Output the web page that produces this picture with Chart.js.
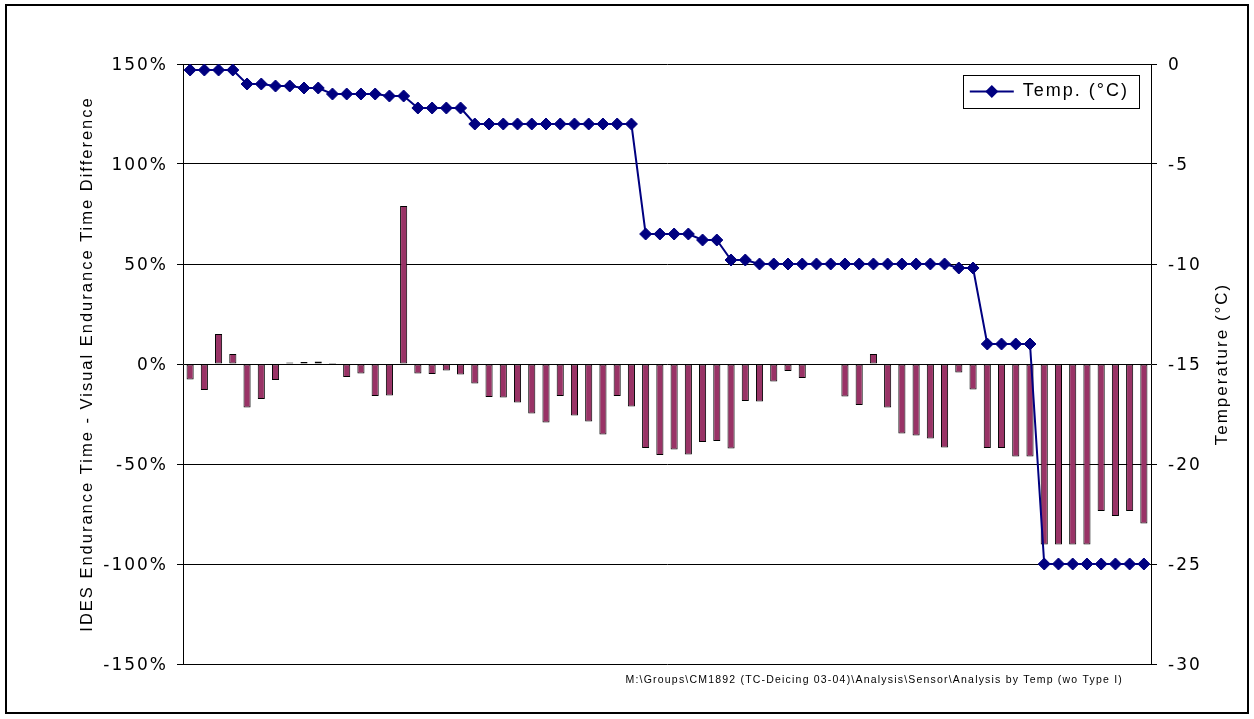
<!DOCTYPE html>
<html>
<head>
<meta charset="utf-8">
<title>IDES vs Visual Endurance Time</title>
<script src="https://cdn.jsdelivr.net/npm/chart.js@4.4.1/dist/chart.umd.min.js"></script>
<style>
  html, body { margin: 0; padding: 0; background: #fff; }
  #wrap { width: 1254px; height: 719px; position: relative; }
</style>
</head>
<body>
<div id="wrap"><canvas id="chart"></canvas></div>
<script>
// sample number of each test (no labels shown on the x axis)
const samples = [
  1, 2, 3, 4, 5, 6, 7, 8, 9, 10, 11, 12, 13, 14, 15, 16, 17,
  18, 19, 20, 21, 22, 23, 24, 25, 26, 27, 28, 29, 30, 31, 32, 33, 34,
  35, 36, 37, 38, 39, 40, 41, 42, 43, 44, 45, 46, 47, 48, 49, 50, 51,
  52, 53, 54, 55, 56, 57, 58, 59, 60, 61, 62, 63, 64, 65, 66, 67, 68
];

// IDES endurance time - visual endurance time, in %
const timeDiff = [
  -7.7, -13, 15, 5, -21.7, -17.5, -8, 0.8, 1, 1.2, 0.5, -6.5, -4.8, -16, -15.7, 79, -4.7,
  -5, -3.3, -5.3, -9.7, -16.5, -16.7, -19.3, -24.7, -29.3, -16, -25.7, -28.7, -35.3, -16, -21.3, -42, -45.5,
  -42.7, -45.2, -39, -38.5, -42.2, -18.5, -18.8, -8.8, -3.5, -7, null, null, -16.3, -20.5, 5, -21.7, -34.7,
  -35.7, -37.3, -41.7, -4.3, -12.7, -42, -42, -46.3, -46.3, -90.2, -90.2, -90.2, -90.2, -73.5, -76, -73.5, -79.7
];

// temperature in °C
const temperature = [
  -0.3, -0.3, -0.3, -0.3, -1.0, -1.0, -1.1, -1.1, -1.2, -1.2, -1.5, -1.5, -1.5, -1.5, -1.6, -1.6, -2.2,
  -2.2, -2.2, -2.2, -3.0, -3.0, -3.0, -3.0, -3.0, -3.0, -3.0, -3.0, -3.0, -3.0, -3.0, -3.0, -8.5, -8.5,
  -8.5, -8.5, -8.8, -8.8, -9.8, -9.8, -10.0, -10.0, -10.0, -10.0, -10.0, -10.0, -10.0, -10.0, -10.0, -10.0, -10.0,
  -10.0, -10.0, -10.0, -10.2, -10.2, -14.0, -14.0, -14.0, -14.0, -25, -25, -25, -25, -25, -25, -25, -25
];

const diffTicks = [150, 100, 50, 0, -50, -100, -150];
const tempTicks = [0, -5, -10, -15, -20, -25, -30];

const leftTitle = "IDES Endurance Time - Visual Endurance Time Difference";
const rightTitle = "Temperature (°C)";
const legendText = "Temp. (°C)";
const footnote = "M:\\Groups\\CM1892 (TC-Deicing 03-04)\\Analysis\\Sensor\\Analysis by Temp (wo Type I)";

const NAVY = "#000080";
const PLUM = "#993366";
const SPACING = "2px";

function diamond(ctx, x, y, r) {
  ctx.beginPath();
  ctx.moveTo(x, y - r);
  ctx.lineTo(x + r, y);
  ctx.lineTo(x, y + r);
  ctx.lineTo(x - r, y);
  ctx.closePath();
  ctx.fill();
}

const decor = {
  id: "decor",
  beforeLayout(chart) {
    chart.ctx.letterSpacing = SPACING;
  },
  afterLayout(chart) {
    // move the legend inside the plot, top right
    const lg = chart.legend;
    const ca = chart.chartArea;
    const h = lg.height;
    lg.right = ca.right - 12;
    lg.top = ca.top + 8.5;
    lg.bottom = lg.top + h;
  },
  beforeDraw(chart) {
    chart.ctx.letterSpacing = SPACING;
  },
  afterDraw(chart) {
    const ctx = chart.ctx;
    const ca = chart.chartArea;
    const lg = chart.legend;
    ctx.save();

    // legend frame and marker
    const itemX = lg.right - lg.lineWidths[0];
    const bx = Math.round(itemX - 7) + 0.5;
    const by = Math.round(ca.top + 11) + 0.5;
    ctx.strokeStyle = "#000";
    ctx.lineWidth = 1;
    ctx.strokeRect(bx, by, Math.round(ca.right - 12) - bx + 0.5, 33);
    ctx.fillStyle = NAVY;
    diamond(ctx, itemX + 22, lg.top + 19, 6.5);

    // right axis title, reads bottom to top
    ctx.fillStyle = "#000";
    ctx.font = '17px "Liberation Sans", Arial, sans-serif';
    ctx.textAlign = "center";
    ctx.textBaseline = "middle";
    ctx.save();
    ctx.translate(ca.right + 71, (ca.top + ca.bottom) / 2);
    ctx.rotate(-Math.PI / 2);
    ctx.fillText(rightTitle, 0, 0);
    ctx.restore();

    // file path note
    ctx.letterSpacing = "1.2px";
    ctx.font = '10.5px "Liberation Sans", Arial, sans-serif';
    ctx.textAlign = "right";
    ctx.fillText(footnote, ca.right - 28, ca.bottom + 16);

    // outer frame
    ctx.lineWidth = 2;
    ctx.strokeRect(6, 5, 1242, 708);
    ctx.restore();
  }
};

const tickFont = { family: '"DejaVu Sans", Verdana, sans-serif', size: 17 };

new Chart(document.getElementById("chart"), {
  type: "bar",
  data: {
    labels: samples,
    datasets: [
      {
        type: "line",
        label: legendText,
        data: temperature,
        yAxisID: "y1",
        borderColor: NAVY,
        backgroundColor: NAVY,
        borderWidth: 2,
        pointStyle: "rectRot",
        pointRadius: 6,
        pointBorderWidth: 1,
        pointBackgroundColor: NAVY,
        pointBorderColor: NAVY,
        tension: 0,
        order: 0,
      },
      {
        type: "bar",
        label: "Difference",
        data: timeDiff,
        yAxisID: "y",
        backgroundColor: PLUM,
        borderColor: "#000",
        borderWidth: 1,
        borderSkipped: false,
        barPercentage: 0.5,
        categoryPercentage: 1,
        order: 1,
      },
    ],
  },
  options: {
    responsive: true,
    maintainAspectRatio: false,
    animation: false,
    layout: { padding: { left: 8, right: 8, top: 26, bottom: 55 } },
    plugins: {
      tooltip: { enabled: false },
      legend: {
        position: "top",
        align: "end",
        labels: {
          color: "#000",
          font: { family: '"Liberation Sans", Arial, sans-serif', size: 18 },
          boxWidth: 44,
          boxHeight: 2,
          padding: 10,
          generateLabels: (chart) => [
            {
              text: chart.data.datasets[0].label,
              fillStyle: NAVY,
              strokeStyle: NAVY,
              lineWidth: 0,
              datasetIndex: 0,
              hidden: false,
            },
          ],
        },
      },
    },
    scales: {
      x: { display: false, offset: true },
      y: {
        position: "left",
        min: -150,
        max: 150,
        afterBuildTicks: (s) => { s.ticks = diffTicks.map((v) => ({ value: v })); },
        afterFit: (s) => { s.width = 175; },
        ticks: { color: "#000", font: tickFont, padding: 9, labelOffset: 2, callback: (v) => v + "%" },
        grid: { color: "#000", lineWidth: 1, drawTicks: true, tickLength: 6, tickColor: "#000" },
        border: { display: true, color: "#000", width: 1 },
        title: {
          display: true,
          text: leftTitle,
          color: "#000",
          font: { family: '"Liberation Sans", Arial, sans-serif', size: 16.5 },
          padding: { top: 70, bottom: 0 },
        },
      },
      y1: {
        position: "right",
        min: -30,
        max: 0,
        afterBuildTicks: (s) => { s.ticks = tempTicks.map((v) => ({ value: v })); },
        afterFit: (s) => { s.width = 95; },
        ticks: { color: "#000", font: tickFont, padding: 11, labelOffset: 2 },
        grid: { drawOnChartArea: false, drawTicks: true, tickLength: 6, color: "#000", tickColor: "#000" },
        border: { display: true, color: "#000", width: 1 },
      },
    },
  },
  plugins: [decor],
});
</script>
</body>
</html>
